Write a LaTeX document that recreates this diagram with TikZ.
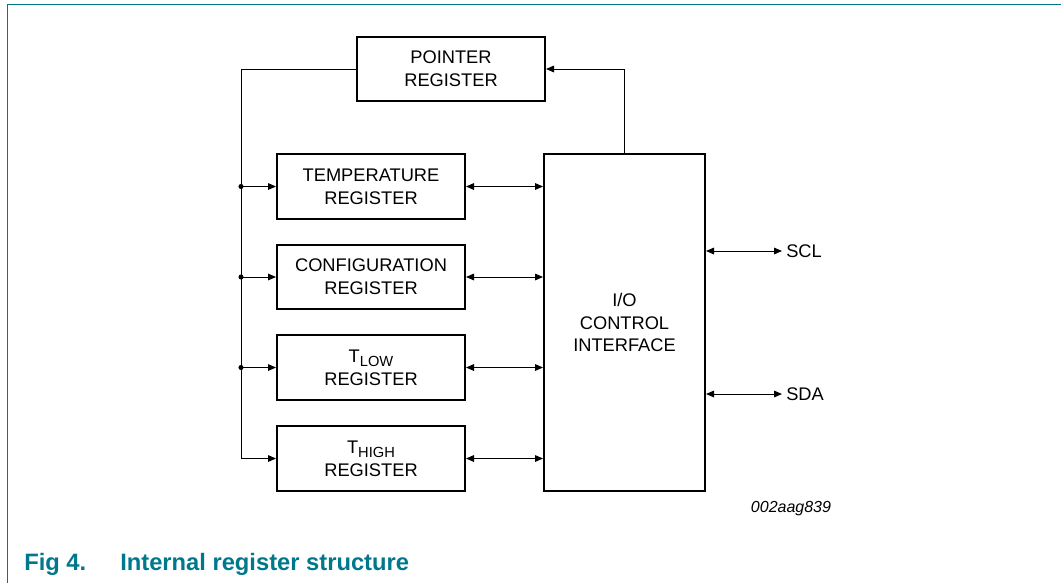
\documentclass[tikz,border=0pt]{standalone}
\usepackage{fontspec}
\setmainfont{Liberation Sans}
\usetikzlibrary{arrows.meta}
\definecolor{nxpteal}{RGB}{0,120,140}
\newcommand{\subtext}[1]{\raisebox{-0.45ex}{\fontsize{11}{11}\selectfont #1}}

\begin{document}
\begin{tikzpicture}[x=0.75pt,y=-0.75pt,
  reg/.style={draw,line width=1.5pt,minimum width=141pt,minimum height=48.5pt,align=center,
    font=\fontsize{13.7}{17}\selectfont,inner sep=0pt},
  ioblock/.style={draw,line width=1.5pt,minimum width=120.75pt,minimum height=252.75pt,align=center,
    font=\fontsize{13.7}{17}\selectfont},
  conn/.style={line width=0.75pt},
  arr/.style={conn,-{Triangle[length=6pt,width=5pt]}},
  biarr/.style={conn,{Triangle[length=6pt,width=5pt]}-{Triangle[length=6pt,width=5pt]}},
  pin/.style={anchor=west,inner xsep=3pt,font=\fontsize{13.7}{17}\selectfont},
  frame/.style={nxpteal,line width=1.2pt},
  caption/.style={anchor=base west,nxpteal,inner sep=0pt,font=\fontsize{17.8}{20}\selectfont\bfseries}]
\useasboundingbox (0,0) rectangle (1061,583);
% frame
\draw[frame] (7.5,583) |- (1061,4.5);
% registers
\node[reg] (pointer) at (451,69) {POINTER\\REGISTER};
\node[reg] (temp) at (371,186.5) {TEMPERATURE\\REGISTER};
\node[reg] (config) at (371,277) {CONFIGURATION\\REGISTER};
\node[reg] (tlow) at (371,367.5) {T\subtext{LOW}\\REGISTER};
\node[reg] (thigh) at (371,458.5) {T\subtext{HIGH}\\REGISTER};
\node[ioblock] (io) at (624.5,322.5) {I/O\\CONTROL\\INTERFACE};
% pointer bus
\coordinate (bus) at (241,0);
\draw[arr] (pointer.west) -| (bus |- thigh.west) -- (thigh.west);
\draw[arr] (bus |- temp.west) -- (temp.west);
\draw[arr] (bus |- config.west) -- (config.west);
\draw[arr] (bus |- tlow.west) -- (tlow.west);
\fill (bus |- temp.west) circle (1.9pt);
\fill (bus |- config.west) circle (1.9pt);
\fill (bus |- tlow.west) circle (1.9pt);
% data lines
\draw[biarr] (temp.east) -- (temp.east -| io.west);
\draw[biarr] (config.east) -- (config.east -| io.west);
\draw[biarr] (tlow.east) -- (tlow.east -| io.west);
\draw[biarr] (thigh.east) -- (thigh.east -| io.west);
\draw[arr] (io.north) |- (pointer.east);
% serial pins
\node[pin] (scl) at (782,251) {SCL};
\node[pin] (sda) at (782,394) {SDA};
\draw[biarr] (io.east |- scl.west) -- (scl.west);
\draw[biarr] (io.east |- sda.west) -- (sda.west);
\node[font=\fontsize{12}{14}\selectfont\itshape] (code) at (791,509) {002aag839};
% caption
\node[caption] (fignum) at (24,570) {Fig 4.};
\node[caption] (figtitle) at (120,570) {Internal register structure};
\end{tikzpicture}
\end{document}
